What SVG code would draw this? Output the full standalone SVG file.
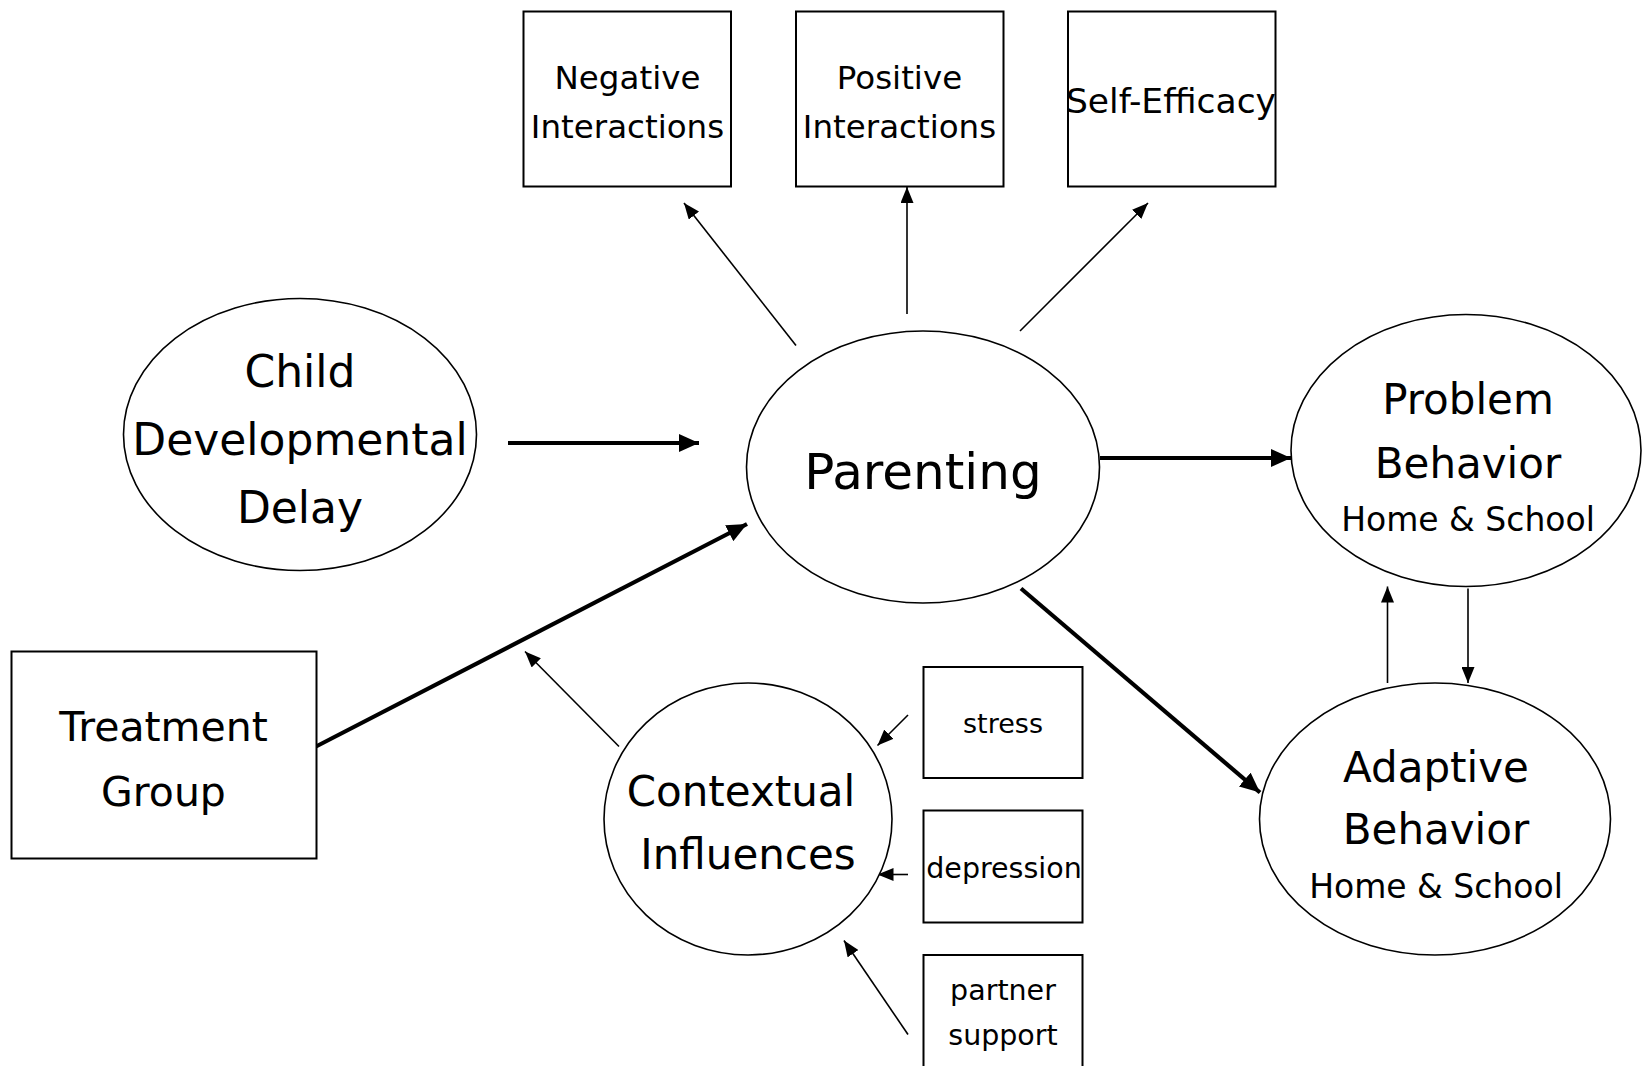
<svg xmlns="http://www.w3.org/2000/svg" width="1642" height="1066" viewBox="0 0 1642 1066">
<style>
.n{fill:#fff;stroke:#000;stroke-width:1.6}
.b{fill:#fff;stroke:#000;stroke-width:2}
text{font-family:"DejaVu Sans","Liberation Sans",sans-serif;fill:#000;text-anchor:middle}
.thin{stroke:#000;stroke-width:1.6;fill:none;marker-end:url(#ah)}
.thick{stroke:#000;stroke-width:4.2;fill:none;marker-end:url(#ahb)}
</style>
<defs>
<marker id="ah" markerUnits="userSpaceOnUse" markerWidth="17" markerHeight="13" refX="16" refY="6.5" orient="auto"><path d="M0,0 L16,6.5 L0,13 z" fill="#000"/></marker>
<marker id="ahb" markerUnits="userSpaceOnUse" markerWidth="20" markerHeight="18" refX="20" refY="9" orient="auto"><path d="M0,0 L20,9 L0,18 z" fill="#000"/></marker>
</defs>
<rect width="1642" height="1066" fill="#fff"/>
<g id="connectors">
<line class="thick" x1="508" y1="443" x2="699" y2="443"/>
<line class="thick" x1="316" y1="746.5" x2="747" y2="524"/>
<line class="thick" x1="1100" y1="458" x2="1291" y2="458"/>
<line class="thick" x1="1021" y1="588.5" x2="1260" y2="792.5"/>
<line class="thin" x1="796" y1="345.5" x2="684" y2="203"/>
<line class="thin" x1="907" y1="314" x2="907" y2="187"/>
<line class="thin" x1="1020" y1="331" x2="1148" y2="203"/>
<line class="thin" x1="619" y1="746.5" x2="525" y2="651.5"/>
<line class="thin" x1="908" y1="715" x2="877.5" y2="745.5"/>
<line class="thin" x1="908" y1="874.5" x2="877.5" y2="874.5"/>
<line class="thin" x1="908" y1="1034.5" x2="844" y2="940.5"/>
<line class="thin" x1="1387.5" y1="683" x2="1387.5" y2="586.5"/>
<line class="thin" x1="1468" y1="588.5" x2="1468" y2="683"/>
</g>
<g id="neg"><rect class="b" x="523.5" y="11.5" width="207.5" height="175"/><text font-size="32.5"><tspan x="627.5" y="89">Negative</tspan><tspan x="627.5" y="138">Interactions</tspan></text></g>
<g id="pos"><rect class="b" x="796" y="11.5" width="207.5" height="175"/><text font-size="32.5"><tspan x="899.5" y="89">Positive</tspan><tspan x="899.5" y="138">Interactions</tspan></text></g>
<g id="self"><rect class="b" x="1068" y="11.5" width="207.5" height="175"/><text font-size="34.5" x="1171" y="113">Self-Efficacy</text></g>
<g id="child"><ellipse class="n" cx="300" cy="434.5" rx="176.5" ry="136"/><text font-size="44"><tspan x="300" y="387">Child</tspan><tspan x="300" y="455">Developmental</tspan><tspan x="300" y="523">Delay</tspan></text></g>
<g id="parenting"><ellipse class="n" cx="923" cy="467" rx="176.5" ry="136"/><text font-size="50" x="923" y="489">Parenting</text></g>
<g id="problem"><ellipse class="n" cx="1466" cy="450.5" rx="175" ry="136"/><text><tspan font-size="42" x="1468" y="413.5">Problem</tspan><tspan font-size="42" x="1468" y="477.5">Behavior</tspan><tspan font-size="33" x="1468" y="530.5">Home &amp; School</tspan></text></g>
<g id="adaptive"><ellipse class="n" cx="1435" cy="819" rx="175.5" ry="136"/><text><tspan font-size="42" x="1436" y="782">Adaptive</tspan><tspan font-size="42" x="1436" y="844">Behavior</tspan><tspan font-size="33" x="1436" y="898">Home &amp; School</tspan></text></g>
<g id="treatment"><rect class="b" x="11.5" y="651.5" width="305" height="207"/><text font-size="41"><tspan x="163.5" y="741">Treatment</tspan><tspan x="163.5" y="806">Group</tspan></text></g>
<g id="contextual"><ellipse class="n" cx="748" cy="819" rx="144" ry="136"/><text font-size="42"><tspan x="741" y="806">Contextual</tspan><tspan x="748" y="869">Influences</tspan></text></g>
<g id="stress"><rect class="b" x="923.5" y="667" width="159" height="111"/><text font-size="27" x="1003" y="733">stress</text></g>
<g id="depression"><rect class="b" x="923.5" y="810.5" width="159" height="112"/><text font-size="28.5" x="1004" y="877.5">depression</text></g>
<g id="partner"><rect class="b" x="923.5" y="955" width="159" height="120"/><text font-size="28.5"><tspan x="1003" y="1000">partner</tspan><tspan x="1003" y="1045">support</tspan></text></g>
</svg>
